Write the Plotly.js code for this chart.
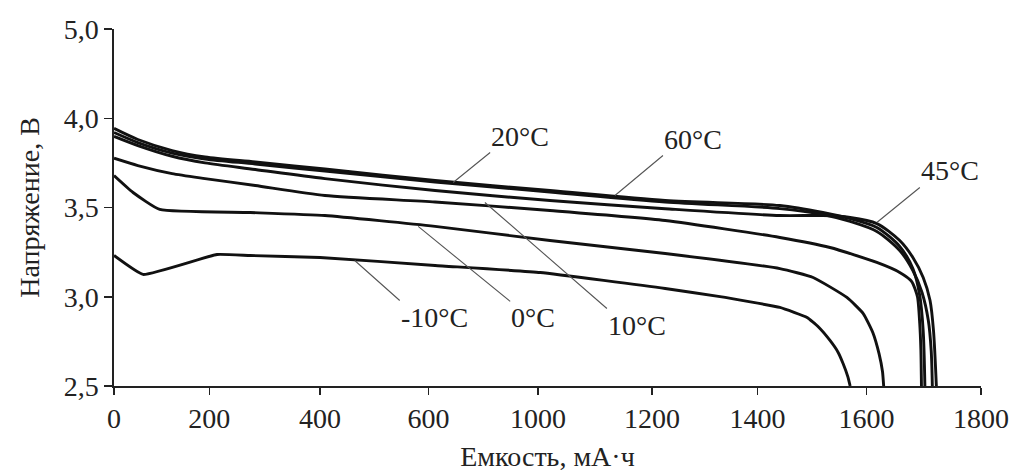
<!DOCTYPE html>
<html><head><meta charset="utf-8">
<script src="https://cdn.plot.ly/plotly-3.0.1.min.js"></script>
<style>html,body{margin:0;padding:0;background:#fff;}#chart{width:1016px;height:472px;}</style>
</head><body><div id="chart"></div>
<script>
// ---- data (capacity in mA·h as read against the printed tick labels, voltage in V) ----
const seriesNames = ['60°C', '45°C', '20°C', '10°C', '0°C', '-10°C'];

const cap60 = [0, 50, 122, 191, 283, 409, 624, 1021, 1225, 1441, 1520, 1570, 1618, 1658, 1681, 1693, 1699, 1702];
const volt60 = [3.943, 3.881, 3.819, 3.783, 3.755, 3.716, 3.651, 3.595, 3.539, 3.511, 3.472, 3.438, 3.388, 3.282, 3.158, 3.007, 2.811, 2.5];

const cap45 = [0, 50, 122, 191, 283, 409, 624, 1021, 1225, 1441, 1520, 1570, 1618, 1658, 1681, 1699, 1711, 1717, 1722];
const volt45 = [3.898, 3.847, 3.787, 3.750, 3.713, 3.662, 3.595, 3.539, 3.493, 3.455, 3.455, 3.444, 3.410, 3.315, 3.220, 3.108, 2.979, 2.811, 2.5];

const cap20 = [0, 50, 122, 191, 283, 409, 624, 1021, 1225, 1441, 1520, 1570, 1618, 1658, 1681, 1697, 1708, 1713, 1715];
const volt20 = [3.920, 3.864, 3.805, 3.772, 3.744, 3.704, 3.643, 3.587, 3.531, 3.494, 3.461, 3.422, 3.366, 3.259, 3.147, 3.024, 2.867, 2.699, 2.5];

const cap10 = [0, 50, 122, 191, 283, 409, 624, 1021, 1225, 1441, 1533, 1618, 1658, 1679, 1689, 1693, 1695, 1696];
const volt10 = [3.776, 3.735, 3.690, 3.662, 3.623, 3.567, 3.531, 3.483, 3.427, 3.332, 3.276, 3.192, 3.136, 3.085, 3.000, 2.850, 2.700, 2.5];

const cap0 = [0, 40, 96, 274, 409, 624, 1021, 1225, 1441, 1502, 1564, 1594, 1611, 1622, 1628, 1630];
const volt0 = [3.679, 3.584, 3.489, 3.472, 3.455, 3.394, 3.315, 3.242, 3.158, 3.108, 2.996, 2.906, 2.800, 2.680, 2.580, 2.5];

const capM10 = [0, 61, 214, 274, 400, 624, 1004, 1225, 1329, 1441, 1491, 1511, 1533, 1548, 1557, 1566, 1570];
const voltM10 = [3.231, 3.125, 3.237, 3.231, 3.220, 3.175, 3.136, 3.046, 3.001, 2.940, 2.884, 2.833, 2.755, 2.688, 2.626, 2.550, 2.5];

// label anchor points on the curves (capacity, voltage)
const labelCap = [1135, 1618, 690, 806, 581, 464];
const labelVolt = [3.567, 3.416, 3.640, 3.528, 3.394, 3.203];

// printed tick labels
const xTickNumbers = [0, 200, 400, 600, 1000, 1200, 1400, 1600, 1800];
const xTickText = ['0', '200', '400', '600', '1000', '1200', '1400', '1600', '1800'];
const yTickNumbers = [2.5, 3.0, 3.5, 4.0, 4.5];
const yTickText = ['2,5', '3,0', '3,5', '4,0', '5,0'];

// ---- axis geometry: the printed x axis is irregular (no 800 mark), ticks sit at these places ----
const axisCfg = { xTickPlaces: [0, 95.3, 206, 314.5, 424, 538, 643.5, 752.5, 867], xSpan: 867 };

function capToAxis(c) {
  const n = xTickNumbers, p = axisCfg.xTickPlaces;
  for (let i = 0; i < n.length - 1; i++) {
    if (c <= n[i + 1]) return p[i] + (c - n[i]) / (n[i + 1] - n[i]) * (p[i + 1] - p[i]);
  }
  return p[p.length - 1];
}

const caps = [cap60, cap45, cap20, cap10, cap0, capM10];
const volts = [volt60, volt45, volt20, volt10, volt0, voltM10];
const smooth = [0.8, 0.8, 0.8, 0.6, 0.45, 0.35];

const traces = caps.map((c, i) => ({
  type: 'scatter', mode: 'lines', name: seriesNames[i],
  x: c.map(capToAxis), y: volts[i],
  line: { color: '#111', width: 2.9, shape: 'spline', smoothing: smooth[i] },
  hoverinfo: 'skip'
}));

const FONT = 'Liberation Serif, Times New Roman, serif';
const txtFont = { family: FONT, size: 28, color: '#222' };

// text offsets (pixels) and anchoring for the leader lines
const labelStyle = [
  { ax: 48, ay: -40, xa: 'left', ya: 'bottom' },
  { ax: 43, ay: -35, xa: 'left', ya: 'bottom' },
  { ax: 37, ay: -30, xa: 'left', ya: 'bottom' },
  { ax: 122, ay: 106, xa: 'left', ya: 'top' },
  { ax: 92, ay: 75, xa: 'left', ya: 'top' },
  { ax: 45, ay: 40, xa: 'left', ya: 'top' }
];

const annotations = seriesNames.map((t, i) => ({
  x: capToAxis(labelCap[i]), y: labelVolt[i], xref: 'x', yref: 'y',
  text: t, font: txtFont, showarrow: true, arrowhead: 0, arrowwidth: 1.1, arrowcolor: '#555',
  ax: labelStyle[i].ax, ay: labelStyle[i].ay, xanchor: labelStyle[i].xa, yanchor: labelStyle[i].ya,
  standoff: 0, startstandoff: 0, borderpad: 0
}));

const layout = {
  width: 1016, height: 472,
  margin: { l: 114, r: 35, t: 29, b: 86 },
  paper_bgcolor: '#fff', plot_bgcolor: '#fff',
  showlegend: false,
  font: txtFont,
  xaxis: {
    range: [0, axisCfg.xSpan], tickmode: 'array',
    tickvals: xTickNumbers.map(capToAxis), ticktext: xTickText,
    showgrid: false, zeroline: false, showline: true, linecolor: '#222', linewidth: 1.6,
    ticks: 'outside', ticklen: 7, tickwidth: 1.5, tickcolor: '#222',
    tickfont: txtFont,
    title: { text: 'Емкость, мА·ч', font: txtFont, standoff: 24 }
  },
  yaxis: {
    range: [2.5, 4.5], tickmode: 'array', tickvals: yTickNumbers, ticktext: yTickText,
    showgrid: false, zeroline: false, showline: true, linecolor: '#222', linewidth: 1.6,
    ticks: 'outside', ticklen: 8, tickwidth: 1.5, tickcolor: '#222',
    tickfont: txtFont,
    title: { text: 'Напряжение, В', font: txtFont, standoff: 16 }
  },
  annotations: annotations
};

Plotly.newPlot('chart', traces, layout, { staticPlot: true, displayModeBar: false });
</script>
</body></html>
